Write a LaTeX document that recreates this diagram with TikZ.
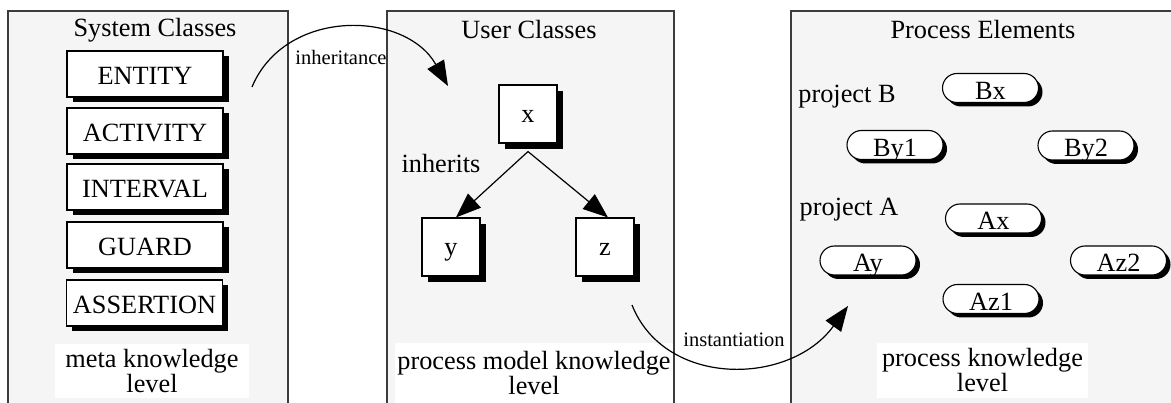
\documentclass[tikz,border=0pt]{standalone}
\usepackage{fontspec}
\setmainfont{Liberation Serif}
\usetikzlibrary{arrows.meta,shadows}
\definecolor{panelfill}{RGB}{245,245,245}
\definecolor{panelline}{RGB}{60,60,60}
\tikzset{
  big/.style={font=\fontsize{26.3}{25}\selectfont},
  small/.style={font=\fontsize{20.5}{22}\selectfont},
  panel/.style={panelline, line width=1.2pt},
  sysbox/.style={big, draw=black, line width=1.1pt, fill=white, minimum width=156pt, minimum height=46pt, inner sep=0pt,
    text height=21pt, text depth=0pt,
    drop shadow={shadow xshift=5.5pt, shadow yshift=-5pt, fill=black, opacity=1}},
  clsbox/.style={big, draw=black, line width=1.1pt, fill=white, minimum width=58pt, minimum height=58pt, inner sep=0pt,
    text height=18pt, text depth=0pt,
    drop shadow={shadow xshift=6pt, shadow yshift=-6pt, fill=black, opacity=1}},
  pill/.style={big, draw=black, line width=1.1pt, fill=white, minimum width=96pt, minimum height=29pt, inner sep=0pt,
    text height=23pt, text depth=0pt,
    rounded corners=14.5pt, drop shadow={shadow xshift=4pt, shadow yshift=-4pt, fill=black, opacity=1}},
  levelbox/.style={big, fill=white, align=center, inner sep=0pt},
  arr/.style={black, line width=1.2pt, -{Triangle[length=25pt,width=19pt]}},
}
\begin{document}
\begin{tikzpicture}[x=1pt,y=-1pt]
\path[use as bounding box] (0,0) rectangle (1171,403);
% panels
\fill[panelfill] (8,11) rectangle (288,403);
\draw[panel] (8,403) -- (8,11) -- (288,11) -- (288,403);
\fill[panelfill] (387,11) rectangle (674,403);
\draw[panel] (387,403) -- (387,11) -- (674,11) -- (674,403);
\fill[panelfill] (791,11) rectangle (1171,403);
\draw[panel] (791,403) -- (791,11) -- (1171,11);
% titles
\node[big] (t1) at (155,30) {System Classes};
\node[big] (t2) at (529,30) {User Classes};
\node[big] (t3) at (983,30) {Process Elements};
% system classes
\node[sysbox] (entity) at (145,74) {ENTITY};
\node[sysbox] (activity) at (145,131) {ACTIVITY};
\node[sysbox] (interval) at (145,187) {INTERVAL};
\node[sysbox] (guard) at (145,245) {GUARD};
\node[sysbox] (assertion) at (144.5,303) {ASSERTION};
\node[levelbox, minimum width=194pt, minimum height=54pt] (l1) at (152,371) {meta knowledge\\level};
% user classes
\node[clsbox] (x) at (528,114) {x};
\node[clsbox] (y) at (451,247) {y};
\node[clsbox] (z) at (605,247) {z};
\node[big] (inh) at (441,164) {inherits};
\draw[arr] ([yshift=-8pt]x.south) -- ([xshift=5pt]y.north);
\draw[arr] ([yshift=-8pt]x.south) -- ([xshift=3pt]z.north);
\node[levelbox, minimum width=278pt, minimum height=60pt] (l2) at (534,373) {process model knowledge\\level};
% process elements
\node[big] (pb) at (847,97) {project B};
\node[big] (pa) at (849,210) {project A};
\node[pill] (bx) at (990.5,88) {Bx};
\node[pill] (by1) at (895,145) {By1};
\node[pill] (by2) at (1086,145.5) {By2};
\node[pill] (ax) at (993.5,218.5) {Ax};
\node[pill] (ay) at (868,260.5) {Ay};
\node[pill] (az2) at (1118.5,260.5) {Az2};
\node[pill] (az1) at (991,299) {Az1};
\node[levelbox, minimum width=211pt, minimum height=55pt] (l3) at (982.5,370.5) {process knowledge\\level};
% inter-panel connectors
\coordinate (ia) at (252,87);
\coordinate (ib) at (448,86);
\coordinate (sa) at (632,305);
\coordinate (sb) at (848,306);
\draw[arr] (ia) .. controls (285,8) and (405,10) .. (ib);
\node[small] (inhl) at (341,57) {inheritance};
\draw[arr] (sa) .. controls (665,388) and (790,386) .. (sb);
\node[small] (instl) at (734,340) {instantiation};
\end{tikzpicture}
\end{document}
